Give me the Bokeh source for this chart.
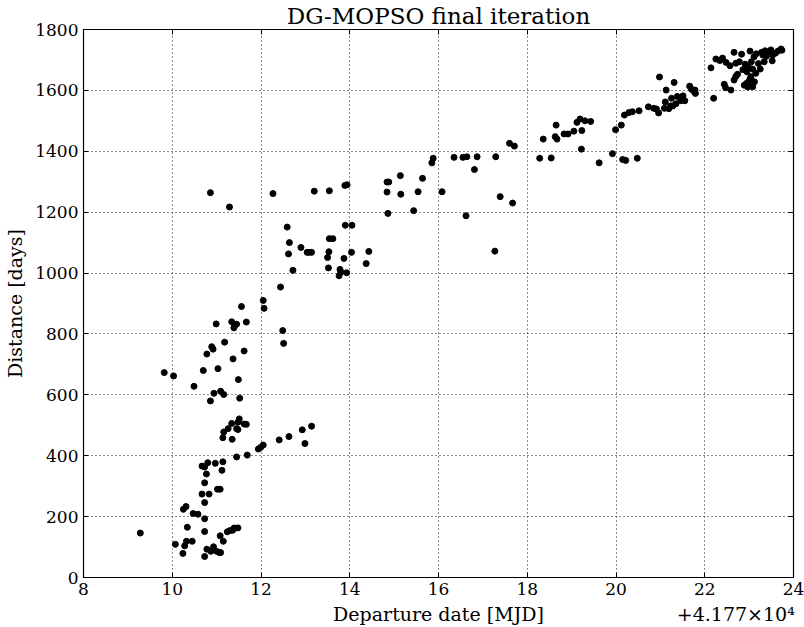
from bokeh.plotting import figure
from bokeh.models import FixedTicker, LinearAxis, Range1d
from bokeh.embed import file_html
from bokeh.resources import INLINE

# Departure date offsets (days, + 4.177e4 MJD) and distances [days]
x_low = [9.28, 10.07, 10.24, 10.25, 10.31, 10.28, 10.32, 10.34, 10.45, 10.47, 10.58, 10.49,
         9.82, 10.03, 10.70, 10.73, 10.73, 10.73, 10.73, 10.67, 10.73, 10.77, 10.67, 10.73,
         10.80, 10.78, 10.78, 10.83, 10.86, 10.89, 10.92, 10.94, 10.93, 10.87, 10.97, 10.99,
         11.03, 11.02, 11.08, 11.00, 11.06, 11.09, 11.12, 11.14, 11.08, 11.15, 11.09, 11.16,
         11.18, 11.14, 11.16, 11.24, 11.26, 11.30, 11.34, 11.35, 11.37, 11.36, 11.39, 11.34,
         11.39, 11.41, 11.45, 11.41, 11.45, 11.45, 11.48, 11.48, 11.51, 11.48, 11.49, 11.52,
         11.62, 11.62, 11.67, 11.67, 11.69, 11.94, 11.99, 12.05, 12.41, 12.49, 12.51, 12.63,
         12.93, 12.99, 13.14]
y_low = [146, 109, 79, 224, 233, 104, 119, 165, 119, 210, 208, 628,
         673, 662, 680, 69, 151, 193, 246, 274, 311, 340, 366, 363,
         377, 734, 93, 274, 580, 758, 750, 605, 101, 86, 375, 833,
         686, 290, 290, 86, 82, 612, 352, 380, 137, 119, 82, 601,
         773, 459, 478, 150, 489, 154, 506, 454, 718, 155, 162, 840,
         820, 829, 832, 162, 396, 489, 486, 510, 521, 163, 650, 589,
         744, 504, 503, 839, 402, 422, 427, 435, 452, 811, 769, 463,
         485, 440, 497]

x_mid = [10.86, 11.29, 12.27, 12.59, 12.64, 12.62, 12.72, 12.90, 13.04, 13.08, 13.14, 13.20,
         13.54, 13.54, 13.62, 13.53, 13.50, 13.52, 13.87, 13.89, 13.94, 13.90, 14.05, 14.04,
         13.80, 13.76, 13.93, 13.78, 14.37, 14.43, 14.84, 14.84, 14.88, 14.86, 15.14, 15.15,
         12.44, 12.05, 12.07, 11.56]
y_mid = [1264, 1217, 1261, 1151, 1100, 1063, 1009, 1084, 1068, 1068, 1068, 1269,
         1270, 1113, 1113, 1070, 1051, 1017, 1048, 1288, 1290, 1157, 1157, 1068,
         1003, 991, 1001, 1012, 1031, 1071, 1266, 1299, 1299, 1196, 1320, 1259,
         954, 910, 884, 890]

x_high = [15.44, 15.54, 15.64, 15.85, 15.88, 16.08, 16.35, 16.55, 16.64, 16.62, 16.81, 16.87,
          17.27, 17.29, 17.39, 17.60, 17.71, 17.67, 18.28, 18.54, 18.36, 18.63, 18.67, 18.65,
          18.83, 18.92, 19.05, 19.22, 19.23, 19.12, 19.19, 19.30, 19.43, 19.62, 19.92, 19.99,
          20.12, 20.15, 20.22, 20.48, 20.19, 20.29, 20.37, 20.52, 20.73, 20.85, 20.91, 20.96,
          20.98, 21.09, 21.11, 21.13, 21.19, 21.23, 21.25, 21.31, 21.28, 21.35, 21.38, 21.46,
          21.51, 21.55, 21.66, 21.70, 21.75, 21.79, 21.78, 22.14, 22.20, 22.25, 22.34, 22.40,
          22.48, 22.44, 22.47, 22.59, 22.57, 22.66, 22.66, 22.70, 22.70, 22.74, 22.78, 22.83,
          22.86, 22.89, 22.91, 22.95, 22.98, 22.99, 23.02, 23.04, 23.05, 23.08, 23.11, 23.12,
          23.15, 23.16, 23.21, 23.25, 23.28, 23.31, 23.34, 23.36, 23.39, 23.44, 23.49, 23.52,
          23.53, 23.59, 23.65, 23.72, 23.74, 23.02, 23.08, 22.97, 22.94]
y_high = [1205, 1267, 1311, 1362, 1377, 1267, 1380, 1380, 1382, 1188, 1340, 1382,
          1072, 1382, 1251, 1426, 1417, 1230, 1377, 1378, 1440, 1448, 1440, 1486,
          1457, 1457, 1466, 1407, 1468, 1495, 1506, 1500, 1498, 1362, 1392, 1471,
          1486, 1373, 1370, 1377, 1519, 1527, 1530, 1533, 1546, 1541, 1539, 1526,
          1644, 1541, 1562, 1601, 1540, 1549, 1574, 1626, 1549, 1556, 1580, 1566,
          1582, 1566, 1614, 1604, 1598, 1590, 1601, 1674, 1574, 1703, 1698, 1706,
          1692, 1620, 1609, 1601, 1681, 1725, 1634, 1689, 1646, 1653, 1694, 1719,
          1668, 1617, 1686, 1661, 1678, 1628, 1729, 1645, 1694, 1670, 1710, 1628,
          1656, 1720, 1688, 1670, 1725, 1716, 1694, 1730, 1712, 1727, 1733, 1697,
          1716, 1722, 1729, 1736, 1732, 1637, 1612, 1611, 1623]

x_ticks = [8, 10, 12, 14, 16, 18, 20, 22, 24]
y_ticks = [0, 200, 400, 600, 800, 1000, 1200, 1400, 1600, 1800]
x_label = "Departure date [MJD]"
y_label = "Distance [days]"
offset_text = "+4.177×10⁴"

FONT = "DejaVu Serif"

p = figure(width=804, height=627, output_backend="svg", toolbar_location=None,
           x_range=Range1d(8, 24), y_range=Range1d(0, 1800),
           title="DG-MOPSO final iteration",
           min_border_left=83, min_border_right=11, min_border_top=28, min_border_bottom=50)
p.background_fill_color = "white"
p.border_fill_color = "white"
p.outline_line_color = "black"
p.outline_line_width = 1.2

p.title.align = "center"
p.title.text_font = FONT
p.title.text_font_size = "23px"
p.title.text_font_style = "normal"
p.title.text_color = "black"
p.title.standoff = 1


def style_axis(ax):
    ax.major_label_text_font = FONT
    ax.major_label_text_font_size = "17px"
    ax.major_label_text_color = "black"
    ax.axis_label_text_font = FONT
    ax.axis_label_text_font_size = "19px"
    ax.axis_label_text_font_style = "normal"
    ax.axis_label_text_color = "black"
    ax.major_tick_in = 5
    ax.major_tick_out = 0
    ax.minor_tick_line_color = None
    ax.axis_line_color = "black"
    ax.major_tick_line_color = "black"
    ax.major_label_standoff = 5


style_axis(p.xaxis[0])
style_axis(p.yaxis[0])
p.xaxis.ticker = FixedTicker(ticks=x_ticks)
p.yaxis.ticker = FixedTicker(ticks=y_ticks)
p.yaxis.axis_label = y_label
p.yaxis.axis_label_standoff = 6

# second (unticked) axis below: carries the x label and the offset text on one line
label_axis = LinearAxis(ticker=FixedTicker(ticks=[16.0, 22.7]),
                        major_label_overrides={16.0: x_label, 22.7: offset_text})
style_axis(label_axis)
label_axis.major_label_text_font_size = "19px"
label_axis.axis_line_color = None
label_axis.major_tick_line_color = None
label_axis.major_tick_in = 0
label_axis.major_label_standoff = 5
p.add_layout(label_axis, "below")

# tick-only axes on the top and right (inward ticks, empty labels)
for side, ticks in (("above", x_ticks), ("right", y_ticks)):
    tax = LinearAxis(ticker=FixedTicker(ticks=ticks),
                     major_label_overrides={t: "" for t in ticks})
    style_axis(tax)
    tax.major_label_standoff = 0
    tax.axis_line_color = None
    p.add_layout(tax, side)

p.grid.grid_line_color = "black"
p.grid.grid_line_dash = "1 3"
p.grid.grid_line_width = 1
p.grid.grid_line_alpha = 0.9

xs = x_low + x_mid + x_high
ys = y_low + y_mid + y_high
p.scatter(xs, ys, size=6, color="black", marker="circle")

open("out.html", "w").write(file_html(p, INLINE))
